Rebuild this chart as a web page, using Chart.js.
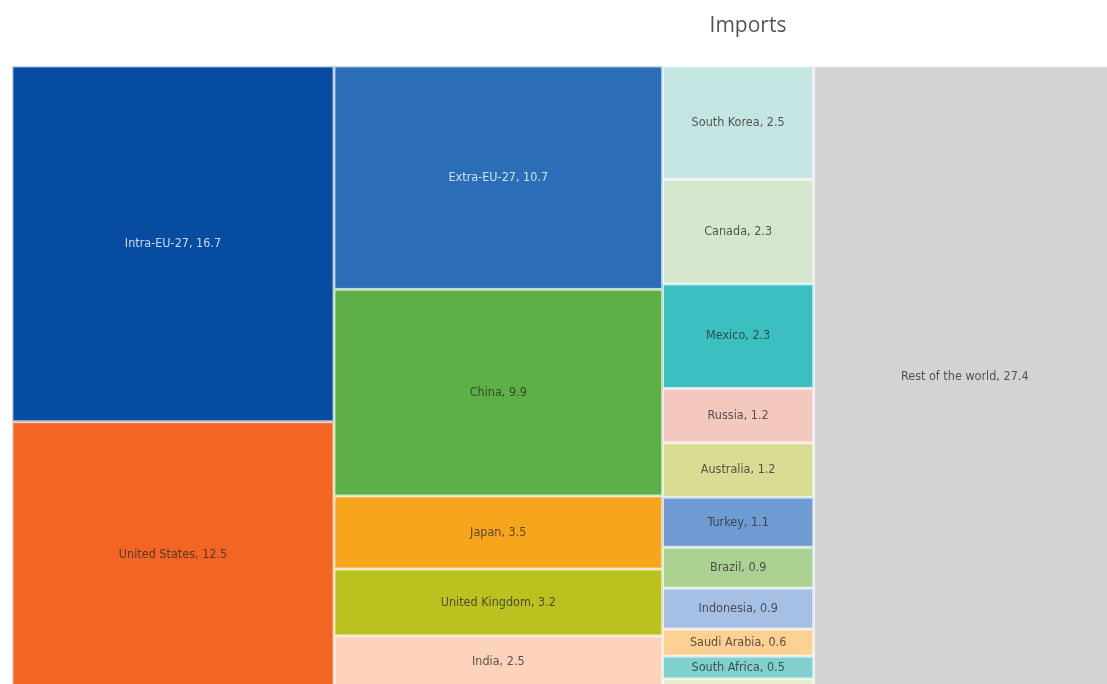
<!DOCTYPE html>
<html>
<head>
<meta charset="utf-8">
<script src="https://cdn.jsdelivr.net/npm/chart.js@4.4.1/dist/chart.umd.min.js"></script>
<style>
    html, body { margin: 0; background: #fff; overflow: hidden; }
    #wrap { position: relative; width: 1107px; height: 684px; }
    #titulo {
        position: absolute; left: 648px; top: 9px; width: 200px;
        text-align: center; font: 21px "Open Sans", sans-serif; color: #555;
        line-height: 30px;
    }
</style>
</head>
<body>
<div id="wrap">
    <div id="titulo">Imports</div>
    <canvas id="graficoImports" width="1107" height="684"></canvas>
</div>
<script>
// treemap de importações (% do total), coluna a coluna
const paises = [
    "Intra-EU-27", "United States",
    "Extra-EU-27", "China", "Japan", "United Kingdom", "India",
    "South Korea", "Canada", "Mexico", "Russia", "Australia", "Turkey",
    "Brazil", "Indonesia", "Saudi Arabia", "South Africa", "Other",
    "Rest of the world"
];
const valores = [
    16.7, 12.5,
    10.7, 9.9, 3.5, 3.2, 2.5,
    2.5, 2.3, 2.3, 1.2, 1.2, 1.1, 0.9, 0.9, 0.6, 0.5, 0.2,
    27.4
];
const colunas = [
    0, 0,
    1, 1, 1, 1, 1,
    2, 2, 2, 2, 2, 2, 2, 2, 2, 2, 2,
    3
];
const cores = [
    "#064ca1", "#f36523",
    "#2b6db6", "#5db046", "#f7a51c", "#bbc21f", "#fdd3bb",
    "#c5e5e3", "#d4e6cc", "#3bbfc0", "#f4c7bf", "#d9dc92", "#6f9cd2",
    "#abd193", "#a6bfe4", "#fdd093", "#80d0ce", "#e8eec9",
    "#d2d3d5"
];
const textoClaro = ["Intra-EU-27", "Extra-EU-27"];

// totais por coluna -> largura de cada coluna
const totais = [];
colunas.forEach((c, i) => { totais[c] = (totais[c] || 0) + valores[i]; });

// retângulos em unidades de dados: x = % acumulado, y = fração da coluna
const celulas = [];
let xAcum = 0;
totais.forEach((total, c) => {
    let yAcum = 0;
    paises.forEach((p, i) => {
        if (colunas[i] !== c) return;
        const h = valores[i] / total;
        celulas.push({ x0: xAcum, x1: xAcum + total, y0: yAcum, y1: yAcum + h, i });
        yAcum += h;
    });
    xAcum += total;
});

const treemap = {
    id: "treemap",
    beforeDatasetsDraw(chart) {
        const { ctx, chartArea, scales: { x, y } } = chart;
        ctx.save();
        ctx.beginPath();
        ctx.rect(chartArea.left, chartArea.top, chartArea.width, chartArea.height);
        ctx.clip();

        celulas.forEach(c => {
            const l = x.getPixelForValue(c.x0);
            const r = x.getPixelForValue(c.x1);
            const t = y.getPixelForValue(c.y0);
            const b = y.getPixelForValue(c.y1);

            ctx.fillStyle = cores[c.i];
            ctx.fillRect(l, t, r - l, b - t);
            ctx.strokeStyle = "rgba(255,255,255,0.75)";
            ctx.lineWidth = 1.4;
            ctx.strokeRect(l + 0.7, t + 0.7, r - l - 1.4, b - t - 1.4);

            if (b - t < 16) return;
            const nome = paises[c.i];
            ctx.font = '12.5px "Liberation Sans Narrow", "DejaVu Sans Condensed", "Roboto", sans-serif';
            ctx.fillStyle = textoClaro.includes(nome) ? "rgba(255,255,255,0.78)" : "rgba(45,45,45,0.78)";
            ctx.textAlign = "center";
            ctx.textBaseline = "middle";
            ctx.fillText(nome + ", " + valores[c.i], (l + r) / 2, (t + b) / 2);
        });
        ctx.restore();
    }
};

new Chart(document.getElementById("graficoImports"), {
    type: "scatter",
    data: { datasets: [{ data: [] }] },
    options: {
        responsive: false,
        animation: false,
        layout: { padding: { left: 12, top: 66, right: 0, bottom: 0 } },
        plugins: { legend: { display: false }, tooltip: { enabled: false } },
        scales: {
            x: { display: false, min: 0, max: 99.3 },
            y: { display: false, min: 0, max: 0.9936, reverse: true }
        }
    },
    plugins: [treemap]
});
</script>
</body>
</html>
